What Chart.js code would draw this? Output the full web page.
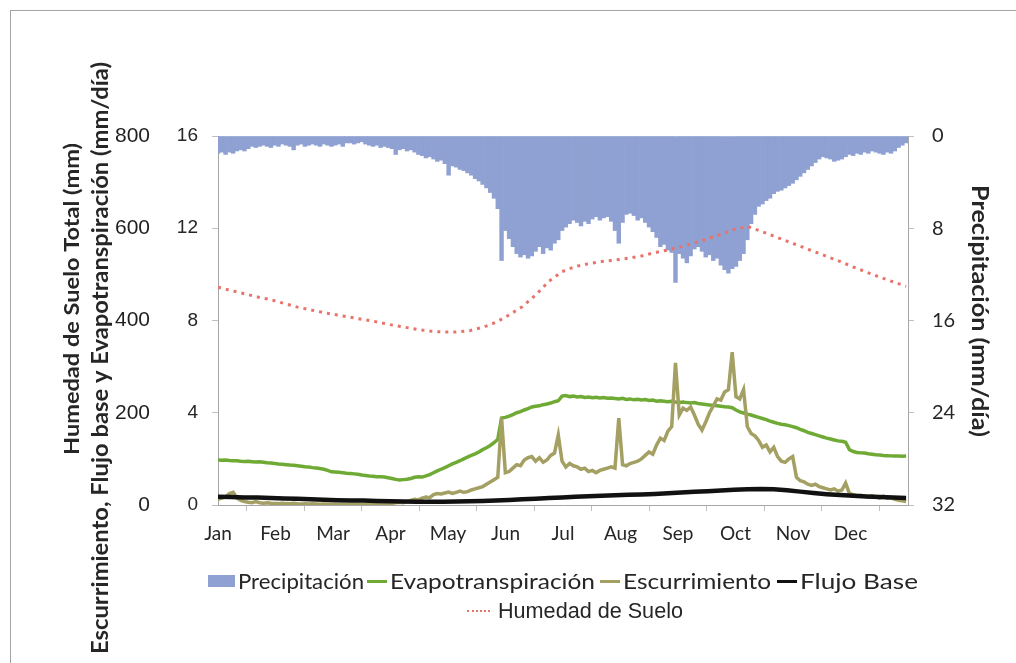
<!DOCTYPE html>
<html>
<head>
<meta charset="utf-8">
<script src="https://cdn.jsdelivr.net/npm/chart.js@4.4.1/dist/chart.umd.min.js"></script>
<style>
  html, body { margin: 0; padding: 0; background: #fff; }
  #wrap { position: relative; width: 1016px; height: 663px; overflow: hidden; }
  #frame { position: absolute; left: 10px; top: 10px; width: 1100px; height: 800px;
           border-top: 1px solid #a3a3a3; border-left: 1px solid #a3a3a3; }
  #c { position: absolute; left: 0; top: 0; }
  .lg { position: absolute; white-space: nowrap; font-family: Lato, "Open Sans", sans-serif;
        font-size: 22px; line-height: 24px; color: #262626; transform-origin: 0 50%; }
  .sw { position: absolute; }
</style>
</head>
<body>
<div id="wrap">
  <div id="frame"></div>
  <canvas id="c" width="1016" height="663"></canvas>
  <div id="legend"></div>
</div>
<script>
// Month labels along the time axis
const months = ['Jan', 'Feb', 'Mar', 'Apr', 'May', 'Jun', 'Jul', 'Aug', 'Sep', 'Oct', 'Nov', 'Dec'];

// Daily series sampled every 2 days (day 0, 2, ... 364)
const DAILY_STEP = 2;
// Slow series sampled weekly (day 0, 7, ... 364)
const WEEKLY_STEP = 7;

// Precipitación (mm/día)
const precipitacion = [
  1.5, 1.4, 1.6, 1.4, 1.5, 1.3, 1.2, 1.3, 1.1, 0.9, 1.0, 0.9, 0.8, 0.9, 1.0,
  0.8, 0.9, 0.7, 0.8, 0.9, 1.2, 0.8, 0.7, 0.9, 0.8, 0.7, 0.8, 0.9, 0.7, 0.8,
  0.9, 0.8, 0.7, 0.9, 0.6, 0.6, 0.7, 0.6, 0.5, 0.7, 0.8, 0.9, 0.8, 1.0, 0.9,
  1.0, 1.1, 1.6, 1.2, 1.1, 1.3, 1.2, 1.4, 1.6, 1.7, 1.9, 1.8, 2.0, 2.2, 2.1,
  2.4, 3.4, 2.6, 2.7, 2.9, 3.0, 3.2, 3.4, 3.7, 3.9, 4.2, 4.5, 4.9, 5.4, 6.3,
  10.8, 8.2, 8.9, 9.6, 10.2, 10.5, 10.3, 10.6, 10.4, 10.0, 9.6, 10.2, 9.7, 9.9, 9.3,
  9.0, 8.2, 7.9, 7.6, 7.3, 7.5, 7.8, 7.4, 7.6, 7.2, 7.0, 7.3, 7.1, 7.0, 7.4,
  8.2, 9.3, 7.5, 6.8, 6.7, 6.9, 7.3, 7.1, 7.5, 7.9, 8.3, 8.8, 9.6, 9.4, 9.9,
  10.1, 12.7, 10.2, 10.6, 11.0, 10.4, 9.8, 9.6, 10.0, 10.5, 10.3, 10.8, 10.6, 11.2, 11.6,
  11.9, 11.5, 11.3, 10.8, 10.2, 9.0, 7.6, 6.8, 6.1, 5.9, 5.6, 5.4, 5.0, 4.8, 4.7,
  4.5, 4.3, 4.1, 3.8, 3.5, 3.2, 2.9, 2.6, 2.3, 2.0, 1.8, 1.9, 2.0, 2.2, 2.1,
  2.0, 1.8, 1.6, 1.7, 1.5, 1.6, 1.4, 1.5, 1.3, 1.4, 1.5, 1.6, 1.4, 1.5, 1.3,
  1.0, 0.8, 0.6
];

// Evapotranspiración (mm/día)
const evapotranspiracion = [
  1.95, 1.94, 1.95, 1.93, 1.92, 1.92, 1.90, 1.89, 1.90, 1.88, 1.86, 1.87, 1.85, 1.83, 1.82,
  1.80, 1.78, 1.77, 1.75, 1.73, 1.72, 1.70, 1.68, 1.66, 1.65, 1.62, 1.60, 1.58, 1.55, 1.50,
  1.44, 1.43, 1.42, 1.40, 1.38, 1.37, 1.35, 1.33, 1.30, 1.28, 1.26, 1.25, 1.23, 1.22, 1.21,
  1.18, 1.15, 1.11, 1.08, 1.10, 1.12, 1.15, 1.20, 1.22, 1.21, 1.26, 1.32, 1.40, 1.48, 1.55,
  1.62, 1.70, 1.78, 1.85, 1.92, 2.00, 2.08, 2.15, 2.22, 2.30, 2.40, 2.48, 2.58, 2.70, 2.85,
  3.77, 3.80, 3.85, 3.92, 4.00, 4.05, 4.12, 4.18, 4.25, 4.28, 4.30, 4.35, 4.38, 4.42, 4.48,
  4.52, 4.72, 4.75, 4.70, 4.72, 4.68, 4.70, 4.66, 4.68, 4.65, 4.67, 4.64, 4.66, 4.63, 4.64,
  4.62, 4.60, 4.63, 4.58, 4.60, 4.56, 4.58, 4.55, 4.57, 4.53, 4.55, 4.50, 4.52, 4.50, 4.48,
  4.50, 4.47, 4.45, 4.47, 4.44, 4.42, 4.44, 4.40, 4.38, 4.36, 4.34, 4.32, 4.30, 4.28, 4.26,
  4.25, 4.22, 4.12, 4.04, 3.99, 3.94, 3.90, 3.85, 3.80, 3.75, 3.70, 3.64, 3.59, 3.54, 3.50,
  3.48, 3.44, 3.40, 3.35, 3.28, 3.22, 3.15, 3.10, 3.05, 3.00, 2.95, 2.90, 2.86, 2.82, 2.78,
  2.76, 2.72, 2.40, 2.32, 2.28, 2.26, 2.25, 2.22, 2.20, 2.18, 2.17, 2.15, 2.14, 2.13, 2.12,
  2.12, 2.11, 2.12
];

// Escurrimiento (mm/día)
const escurrimiento = [
  0.25, 0.30, 0.35, 0.50, 0.55, 0.30, 0.20, 0.15, 0.12, 0.10, 0.15, 0.10, 0.08, 0.10, 0.08,
  0.07, 0.06, 0.08, 0.06, 0.05, 0.07, 0.05, 0.04, 0.05, 0.04, 0.05, 0.04, 0.03, 0.04, 0.03,
  0.03, 0.03, 0.02, 0.03, 0.02, 0.02, 0.03, 0.02, 0.02, 0.03, 0.03, 0.04, 0.05, 0.06, 0.05,
  0.06, 0.08, 0.10, 0.12, 0.10, 0.15, 0.20, 0.25, 0.22, 0.30, 0.35, 0.32, 0.45, 0.50, 0.48,
  0.52, 0.56, 0.50, 0.55, 0.60, 0.55, 0.58, 0.65, 0.70, 0.75, 0.80, 0.90, 1.00, 1.10, 1.20,
  3.77, 1.40, 1.45, 1.60, 1.75, 1.70, 1.95, 2.05, 2.10, 1.90, 2.05, 1.85, 1.95, 2.15, 2.25,
  3.03, 1.90, 1.65, 1.80, 1.70, 1.65, 1.55, 1.60, 1.45, 1.50, 1.40, 1.50, 1.55, 1.60, 1.65,
  1.60, 3.77, 1.75, 1.70, 1.80, 1.85, 1.90, 2.00, 2.15, 2.30, 2.20, 2.60, 2.90, 2.80, 3.20,
  3.40, 6.16, 3.90, 4.20, 4.10, 4.25, 3.90, 3.50, 3.25, 3.60, 4.00, 4.30, 4.60, 4.55, 4.90,
  5.00, 6.63, 4.70, 4.60, 5.00, 3.40, 3.10, 3.00, 2.80, 2.50, 2.60, 2.30, 2.50, 2.10, 1.90,
  1.85, 2.00, 2.10, 1.20, 1.05, 1.00, 0.90, 0.85, 0.90, 0.80, 0.75, 0.70, 0.65, 0.70, 0.60,
  0.65, 0.95, 0.50, 0.45, 0.40, 0.42, 0.38, 0.35, 0.40, 0.35, 0.30, 0.38, 0.30, 0.32, 0.25,
  0.20, 0.18, 0.15
];

// Flujo Base (mm/día), weekly
const flujoBase = [
  0.36, 0.35, 0.33, 0.32, 0.30, 0.28, 0.27, 0.25, 0.23, 0.21,
  0.20, 0.19, 0.17, 0.16, 0.15, 0.14, 0.14, 0.14, 0.15, 0.16,
  0.17, 0.19, 0.22, 0.25, 0.27, 0.30, 0.33, 0.36, 0.38, 0.40,
  0.42, 0.44, 0.46, 0.48, 0.51, 0.54, 0.57, 0.60, 0.63, 0.66,
  0.68, 0.69, 0.68, 0.64, 0.58, 0.52, 0.47, 0.43, 0.40, 0.37,
  0.35, 0.32, 0.30
];

// Humedad de Suelo total (mm), weekly
const humedadSuelo = [
  472, 465, 458, 451, 445, 437, 429, 423, 417, 412,
  407, 402, 397, 391, 386, 381, 377, 375, 375, 378,
  385, 396, 412, 430, 455, 485, 506, 517, 523, 528,
  531, 535, 540, 547, 553, 560, 568, 577, 587, 597,
  604, 594, 583, 572, 561, 550, 539, 528, 516, 505,
  494, 484, 474
];

const DAYS_IN_YEAR = 365;

const toPoints = (values, step) => values.map((v, i) => ({ x: i * step, y: v }));

const COLORS = {
  precip: '#8FA1D2',
  et: '#6FAA35',
  runoff: '#A49F62',
  base: '#111111',
  soil: '#E8736B',
  axis: '#a6a6a6',
  text: '#262626'
};

const titleSoil = 'Humedad de Suelo Total (mm)';
const titleFlow = 'Escurrimiento, Flujo base y Evapotranspiración (mm/día)';
const titlePrecip = 'Precipitación (mm/día)';

// Axis titles: rotated text stretched to a set length along its baseline
const axisTitles = {
  id: 'axisTitles',
  afterDraw(chart) {
    const { ctx, chartArea } = chart;
    const items = [
      { text: titleSoil, x: chartArea.left - 145, y: 299, len: 312, size: 20, rot: -Math.PI / 2 },
      { text: titleFlow, x: chartArea.left - 117, y: 358, len: 592, size: 22, rot: -Math.PI / 2 },
      { text: titlePrecip, x: chartArea.right + 71, y: 311, len: 252, size: 22, rot: Math.PI / 2 }
    ];
    ctx.save();
    ctx.fillStyle = COLORS.text;
    ctx.textAlign = 'center';
    ctx.textBaseline = 'middle';
    items.forEach(it => {
      ctx.save();
      ctx.font = 'bold ' + it.size + 'px Lato, sans-serif';
      const w = ctx.measureText(it.text).width;
      ctx.translate(it.x, it.y);
      ctx.rotate(it.rot);
      ctx.scale(it.len / w, 1);
      ctx.fillText(it.text, 0, 0);
      ctx.restore();
    });
    ctx.restore();
  }
};

new Chart(document.getElementById('c'), {
  type: 'line',
  data: {
    datasets: [
      {
        type: 'bar', label: 'Precipitación', data: toPoints(precipitacion, DAILY_STEP),
        yAxisID: 'yPrecip', backgroundColor: COLORS.precip, borderWidth: 0,
        barPercentage: 1, categoryPercentage: 1, order: 5
      },
      {
        label: 'Evapotranspiración', data: toPoints(evapotranspiracion, DAILY_STEP),
        yAxisID: 'yFlow', borderColor: COLORS.et, borderWidth: 3.5, pointRadius: 0, order: 4
      },
      {
        label: 'Escurrimiento', data: toPoints(escurrimiento, DAILY_STEP),
        yAxisID: 'yFlow', borderColor: COLORS.runoff, borderWidth: 3.5, pointRadius: 0, order: 3
      },
      {
        label: 'Flujo Base', data: toPoints(flujoBase, WEEKLY_STEP),
        yAxisID: 'yFlow', borderColor: COLORS.base, borderWidth: 4.5, pointRadius: 0, order: 2
      },
      {
        label: 'Humedad de Suelo', data: toPoints(humedadSuelo, WEEKLY_STEP),
        yAxisID: 'ySoil', borderColor: COLORS.soil, borderWidth: 3, borderDash: [3, 5],
        pointRadius: 0, order: 1
      }
    ]
  },
  options: {
    responsive: false,
    animation: false,
    devicePixelRatio: 1,
    layout: { padding: { left: 98, right: 16, top: 136, bottom: 118 } },
    plugins: { legend: { display: false }, tooltip: { enabled: false } },
    scales: {
      x: {
        type: 'linear', min: 0, max: DAYS_IN_YEAR, offset: false,
        afterBuildTicks(scale) {
          scale.ticks = Array.from({ length: 13 }, (_, i) => ({ value: i * DAYS_IN_YEAR / 12 }));
        },
        afterFit(scale) { scale.height = 40; },
        ticks: {
          autoSkip: false, maxRotation: 0, padding: 11, color: COLORS.text,
          font: { family: 'Lato', size: 19 },
          callback: (v, i) => months[i] || ''
        },
        grid: { drawOnChartArea: false, drawTicks: true, tickLength: 6, color: '#bfbfbf' },
        border: { display: true, color: COLORS.axis }
      },
      ySoil: {
        position: 'left', weight: 2, min: 0, max: 800,
        afterBuildTicks(scale) {
          scale.ticks = [0, 200, 400, 600, 800].map(v => ({ value: v }));
        },
        afterFit(scale) { scale.width = 60; },
        ticks: { padding: 8, color: '#1f1f1f', font: { family: 'Liberation Sans', size: 21 } },
        grid: { display: false, drawTicks: false },
        border: { display: false }
      },
      yFlow: {
        position: 'left', weight: 1, min: 0, max: 16,
        afterBuildTicks(scale) {
          scale.ticks = [0, 4, 8, 12, 16].map(v => ({ value: v }));
        },
        afterFit(scale) { scale.width = 60; },
        ticks: { padding: 14, color: COLORS.text, font: { family: 'Liberation Sans', size: 19 } },
        grid: { drawOnChartArea: false, drawTicks: true, tickLength: 6, color: '#bfbfbf' },
        border: { display: true, color: COLORS.axis }
      },
      yPrecip: {
        position: 'right', reverse: true, min: 0, max: 32,
        afterBuildTicks(scale) {
          scale.ticks = [0, 8, 16, 24, 32].map(v => ({ value: v }));
        },
        afterFit(scale) { scale.width = 92; },
        ticks: { padding: 18, color: COLORS.text, font: { family: 'Lato', size: 20 } },
        grid: { drawOnChartArea: false, drawTicks: true, tickLength: 6, color: '#bfbfbf' },
        border: { display: true, color: COLORS.axis }
      }
    }
  },
  plugins: [axisTitles]
});

// Legend entries: swatch position, text start and text length
const legendItems = [
  { label: 'Precipitación', kind: 'box', color: COLORS.precip, sx: 208, tx: 238, len: 126, row: 0 },
  { label: 'Evapotranspiración', kind: 'line', color: COLORS.et, sx: 367, tx: 390, len: 205, row: 0 },
  { label: 'Escurrimiento', kind: 'line', color: COLORS.runoff, sx: 600, tx: 623, len: 148, row: 0 },
  { label: 'Flujo Base', kind: 'line', color: COLORS.base, sx: 777, tx: 800, len: 118, row: 0 },
  { label: 'Humedad de Suelo', kind: 'dots', color: COLORS.soil, sx: 467, tx: 498, len: 185, row: 1,
    font: '"Liberation Sans", Arial, sans-serif' }
];
const rowCenters = [581, 611];
const legend = document.getElementById('legend');
legendItems.forEach(it => {
  const cy = rowCenters[it.row];
  const sw = document.createElement('div');
  sw.className = 'sw';
  if (it.kind === 'box') {
    Object.assign(sw.style, { left: it.sx + 'px', top: (cy - 6) + 'px', width: '27px', height: '12px', background: it.color });
  } else if (it.kind === 'line') {
    Object.assign(sw.style, { left: it.sx + 'px', top: (cy - 1.5) + 'px', width: '20px', height: '3px', background: it.color });
  } else {
    Object.assign(sw.style, { left: it.sx + 'px', top: (cy - 1) + 'px', width: '23px', height: '0px', borderTop: '2px dotted ' + it.color });
  }
  legend.appendChild(sw);
  const t = document.createElement('div');
  t.className = 'lg';
  t.textContent = it.label;
  t.style.left = it.tx + 'px';
  t.style.top = (cy - 12) + 'px';
  if (it.font) t.style.fontFamily = it.font;
  legend.appendChild(t);
  const w = t.getBoundingClientRect().width;
  if (w > 0) t.style.transform = 'scaleX(' + (it.len / w).toFixed(3) + ')';
});
</script>
</body>
</html>
